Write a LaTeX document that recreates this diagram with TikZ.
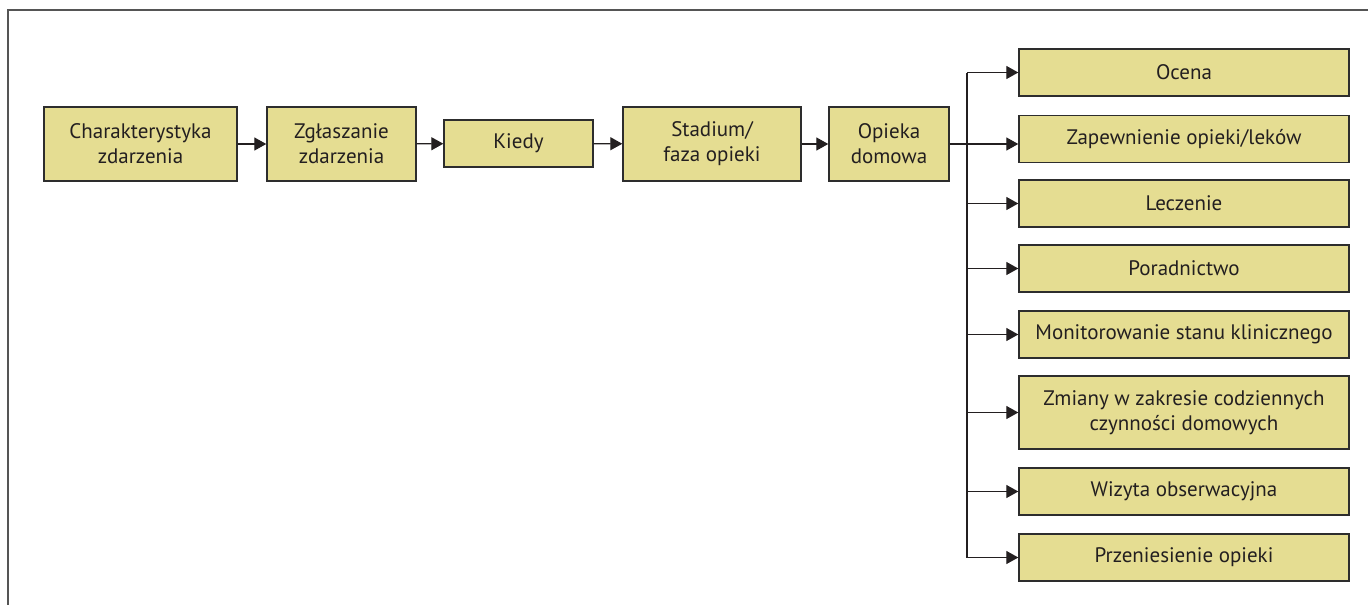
\documentclass[tikz,border=0pt]{standalone}
\usepackage{fontspec}
\setmainfont{PT Sans}
\usetikzlibrary{arrows.meta}

\definecolor{boxfill}{RGB}{229,221,146}
\definecolor{boxline}{RGB}{45,45,45}
\definecolor{framegray}{RGB}{85,85,85}
\definecolor{ink}{RGB}{35,31,32}

\begin{document}
\begin{tikzpicture}[x=1pt, y=-1pt,
    box/.style={draw=boxline, line width=1.4pt, fill=boxfill, text=ink,
      align=center, inner sep=0pt, font=\fontsize{21}{25}\selectfont},
    arr/.style={draw=ink, line width=1.3pt,
      -{Triangle[length=12pt, width=13pt]}},
    wire/.style={draw=ink, line width=1.3pt}]
  \useasboundingbox (0,0) rectangle (1368,605);
  % page frame, open to the right and below
  \draw[framegray, line width=2pt] (8,605) -- (8,10) -- (1368,10);

  % main chain
  \node[box, minimum width=193pt, minimum height=74pt] (zdarz) at (140.5,144)
    {Charakterystyka\\zdarzenia};
  \node[box, minimum width=149pt, minimum height=74pt] (zglosz) at (341.5,144)
    {Zgłaszanie\\zdarzenia};
  \node[box, minimum width=149pt, minimum height=47pt] (kiedy) at (518.5,143.5)
    {Kiedy};
  \node[box, minimum width=178pt, minimum height=74pt] (faza) at (712,144)
    {Stadium/\\faza opieki};
  \node[box, minimum width=120pt, minimum height=74pt] (dom) at (889,144)
    {Opieka\\domowa};

  \draw[arr] (zdarz) -- (zglosz);
  \draw[arr] (zglosz) -- (kiedy);
  \draw[arr] (kiedy) -- (faza);
  \draw[arr] (faza) -- (dom);

  % branches of home care
  \tikzset{item/.style={box, minimum width=330pt, minimum height=47pt}}
  \node[item] (ocena)  at (1184,72.5)  {Ocena};
  \node[item] (leki)   at (1184,138.7) {Zapewnienie opieki/leków};
  \node[item] (lecz)   at (1184,203.5) {Leczenie};
  \node[item] (porad)  at (1184,268.5) {Poradnictwo};
  \node[item] (monit)  at (1184,334.5) {Monitorowanie stanu klinicznego};
  \node[item, minimum height=73pt] (zmiany) at (1184,412.5)
    {Zmiany w zakresie codziennych\\czynności domowych};
  \node[item] (wizyta) at (1184,491.5) {Wizyta obserwacyjna};
  \node[item] (przen)  at (1184,557.5) {Przeniesienie opieki};

  % vertical bus
  \coordinate (bus) at (967,0);
  \draw[wire] (bus |- ocena) -- (bus |- przen);
  \draw[arr] (dom) -- (dom -| leki.west);
  \foreach \n in {ocena,lecz,porad,monit,zmiany,wizyta,przen}
    \draw[arr] (bus |- \n) -- (\n);
\end{tikzpicture}
\end{document}
